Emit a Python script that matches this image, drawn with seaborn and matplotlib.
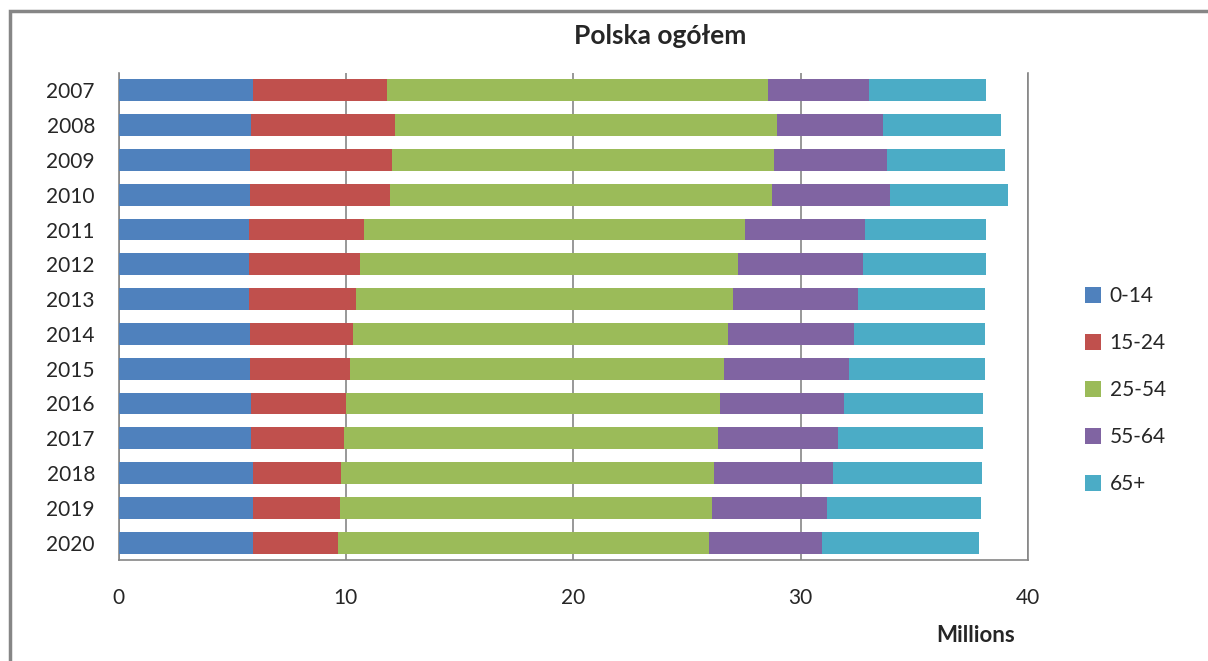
import pandas as pd
import numpy as np
import seaborn as sns
import matplotlib.pyplot as plt
from matplotlib.patches import Rectangle, Patch

years = ['2007', '2008', '2009', '2010', '2011', '2012', '2013',
         '2014', '2015', '2016', '2017', '2018', '2019', '2020']
groups = ['0-14', '15-24', '25-54', '55-64', '65+']

# population in millions per age group
age_0_14 = [5.92, 5.83, 5.78, 5.78, 5.75, 5.75, 5.75,
            5.78, 5.78, 5.83, 5.83, 5.92, 5.92, 5.92]
age_15_24 = [5.89, 6.33, 6.25, 6.16, 5.05, 4.87, 4.70,
             4.54, 4.40, 4.17, 4.09, 3.87, 3.82, 3.73]
age_25_54 = [16.75, 16.79, 16.79, 16.79, 16.74, 16.61, 16.56,
             16.48, 16.44, 16.44, 16.43, 16.39, 16.35, 16.31]
age_55_64 = [4.44, 4.66, 4.97, 5.19, 5.28, 5.50, 5.50,
             5.54, 5.50, 5.46, 5.29, 5.23, 5.06, 4.97]
age_65 = [5.14, 5.19, 5.18, 5.19, 5.32, 5.41, 5.59,
          5.76, 5.98, 6.11, 6.37, 6.55, 6.77, 6.90]

colors = ['#4F81BD', '#C0504D', '#9BBB59', '#8064A2', '#4BACC6']

df = pd.DataFrame({'year': years, '0-14': age_0_14, '15-24': age_15_24,
                   '25-54': age_25_54, '55-64': age_55_64, '65+': age_65})
cum = df[groups].cumsum(axis=1)

sns.set_style('white')
plt.rcParams['font.family'] = ['Lato', 'DejaVu Sans']

fig = plt.figure(figsize=(12.08, 6.61), dpi=100)
ax = fig.add_axes([118.5 / 1208, 1 - 560 / 661, (1028 - 118.5) / 1208, (560 - 73) / 661])

# stacked bars: draw cumulative totals from longest to shortest
for g, c in reversed(list(zip(groups, colors))):
    sns.barplot(x=cum[g], y=df['year'], orient='h', color=c, width=0.63,
                saturation=1, linewidth=0, edgecolor='none', ax=ax, zorder=3)

ax.set_xlim(0, 40)
ax.set_ylim(13.5, -0.5)
ax.set_xticks([0, 10, 20, 30, 40])
ax.set_xlabel('')
ax.set_ylabel('')
ax.grid(axis='x', color='#868686', linewidth=1.2, zorder=0)
ax.grid(axis='y', visible=False)
for side in ['left', 'right', 'bottom']:
    ax.spines[side].set_color('#868686')
    ax.spines[side].set_linewidth(1.2)
ax.spines['top'].set_visible(False)
ax.tick_params(axis='x', length=0, pad=20, labelsize=15)
ax.tick_params(axis='y', length=0, pad=17, labelsize=15)

fig.text(660 / 1208, 1 - 36 / 661, 'Polska ogółem', ha='center', va='center',
         fontsize=19, fontweight='bold')
fig.text(976 / 1208, 1 - 636 / 661, 'Millions', ha='center', va='center',
         fontsize=16, fontweight='bold')

handles = [Patch(facecolor=c, edgecolor='none') for c in colors]
fig.legend(handles, groups, loc='center left',
           bbox_to_anchor=(1066 / 1208, 1 - 390 / 661), frameon=False,
           fontsize=15, labelspacing=1.3, handlelength=0.8, handleheight=0.8,
           handletextpad=0.4)

# outer chart frame
fig.patches.append(Rectangle((10 / 1208, -0.1), 1.2, 1.1 - 11 / 661,
                             transform=fig.transFigure, fill=False,
                             edgecolor='#868686', linewidth=2.5))

fig.savefig('out.png', dpi=100)
